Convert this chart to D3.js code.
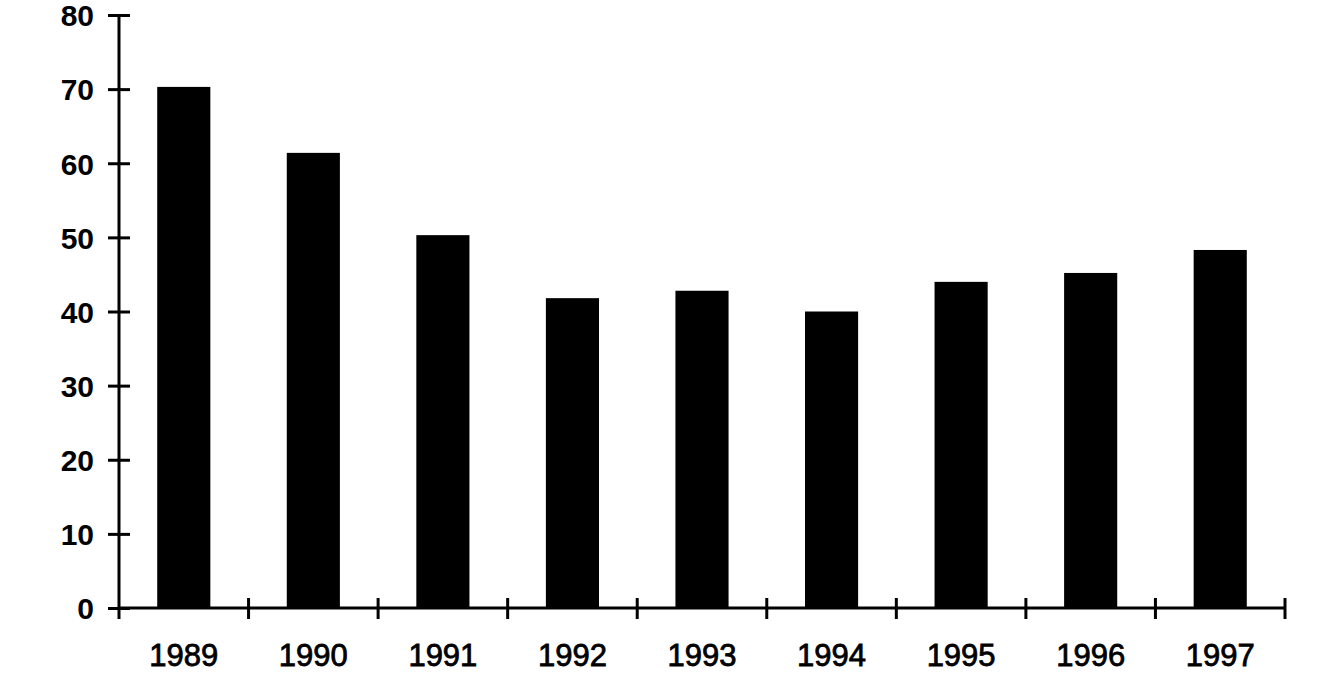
<!DOCTYPE html>
<html>
<head>
<meta charset="utf-8">
<script src="https://cdn.jsdelivr.net/npm/d3@7"></script>
<style>
  body { margin: 0; background: #fff; }
  svg { display: block; }
</style>
</head>
<body>
<div id="chart"></div>
<script>
const years = ["1989", "1990", "1991", "1992", "1993", "1994", "1995", "1996", "1997"];
const values = [70.3, 61.4, 50.3, 41.8, 42.8, 40.0, 44.0, 45.2, 48.3];
const yTicks = [0, 10, 20, 30, 40, 50, 60, 70, 80];

const w = 1340, h = 684;
const padLeft = 119, padRight = 1285, padTop = 15, padBottom = 608;

const svg = d3.select("#chart").append("svg")
  .attr("width", w)
  .attr("height", h);

const x = d3.scaleBand()
  .domain(years)
  .range([padLeft, padRight])
  .paddingInner(0.59)
  .paddingOuter(0.295);

const y = d3.scaleLinear()
  .domain([0, 80])
  .range([padBottom, padTop]);

// bars
svg.append("g")
  .selectAll("rect")
  .data(years)
  .enter()
  .append("rect")
  .attr("x", d => x(d))
  .attr("y", (d, i) => y(values[i]))
  .attr("width", x.bandwidth())
  .attr("height", (d, i) => y(0) - y(values[i]))
  .attr("fill", "#000");

// y axis
const yAxis = d3.axisLeft(y)
  .tickValues(yTicks)
  .tickSize(11)
  .tickPadding(14)
  .tickSizeOuter(0);

const yG = svg.append("g")
  .attr("transform", "translate(" + padLeft + ",0)")
  .call(yAxis);

yG.select(".domain").remove();
yG.append("line")
  .attr("x1", 0).attr("x2", 0)
  .attr("y1", y(80)).attr("y2", y(0) + 11)
  .attr("stroke", "#000")
  .attr("stroke-width", 3);

yG.selectAll(".tick line")
  .attr("x1", -11)
  .attr("x2", 11)
  .attr("stroke", "#000")
  .attr("stroke-width", 3);

yG.selectAll(".tick text")
  .attr("font-family", "'Liberation Sans', Arial, sans-serif")
  .attr("font-size", 30)
  .attr("font-weight", "bold")
  .attr("dy", "0.36em")
  .attr("fill", "#000");

// x axis
const bounds = years.map(d => x(d) - x.step() * x.paddingInner() / 2);
bounds.push(padRight);

const xG = svg.append("g");

xG.append("line")
  .attr("x1", padLeft).attr("x2", padRight)
  .attr("y1", y(0)).attr("y2", y(0))
  .attr("stroke", "#000")
  .attr("stroke-width", 3);

xG.selectAll("line.tick")
  .data(bounds.slice(1))
  .enter()
  .append("line")
  .attr("class", "tick")
  .attr("x1", d => d).attr("x2", d => d)
  .attr("y1", y(0) - 10).attr("y2", y(0) + 11)
  .attr("stroke", "#000")
  .attr("stroke-width", 3);

xG.selectAll("text")
  .data(years)
  .enter()
  .append("text")
  .text(d => d)
  .attr("x", d => x(d) + x.bandwidth() / 2)
  .attr("y", 666)
  .attr("text-anchor", "middle")
  .attr("font-family", "'Liberation Sans', Arial, sans-serif")
  .attr("font-size", 31)
  .attr("fill", "#000")
  .attr("stroke", "#000")
  .attr("stroke-width", 0.8);
</script>
</body>
</html>
